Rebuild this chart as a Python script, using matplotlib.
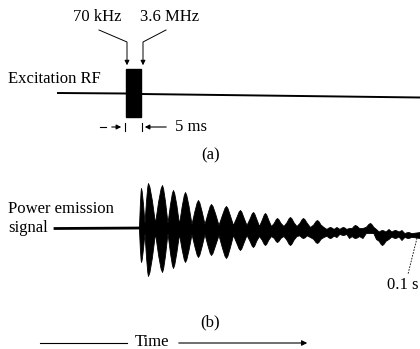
import numpy as np
import matplotlib
matplotlib.use("Agg")
import matplotlib.pyplot as plt

# burst peaks of the power emission signal (pixel coords)
burst_x = [141, 148, 162, 173, 185, 198, 211, 226, 240, 253, 265, 277, 290,
           303, 317, 330, 343, 355, 370, 382, 395, 408]
burst_top = [188, 183, 185, 190, 192, 200, 204, 206, 210, 212, 213, 218, 217,
             218, 220, 227, 227, 225, 223, 230, 230, 232]
burst_bot = [262, 276, 272, 268, 262, 257, 255, 258, 250, 247, 245, 242, 245,
             238, 243, 238, 235, 238, 233, 245, 238, 238]
core_y = [228, 228, 228, 228, 229, 229, 229, 230, 230, 230, 231, 231, 231,
          231, 232, 232, 232, 233, 233, 234, 234, 235]

labels_top = ["70 kHz", "3.6 MHz"]
pulse_ms = "5 ms"
end_label = "0.1 s"

plt.rcParams['font.family'] = ['Liberation Serif', 'DejaVu Serif']

fig = plt.figure(figsize=(4.2, 3.49), dpi=100)
ax = fig.add_axes([0, 0, 1, 1])
ax.set_xlim(0, 420)
ax.set_ylim(349, 0)
ax.axis('off')

fs = 12

# ---- (a) excitation RF ----
ax.text(8, 79, "Excitation RF", fontsize=fs, va='center', ha='left')
ax.plot([58, 126], [93, 93.5], color='black', lw=1.4)
ax.plot([141, 420], [94, 97.5], color='black', lw=1.4)
ax.add_patch(plt.Rectangle((125.5, 69), 15.5, 48, color='black'))

ax.text(97, 17, labels_top[0], fontsize=fs, ha='center', va='center')
ax.text(170, 17, labels_top[1], fontsize=fs, ha='center', va='center')
ax.plot([99, 127, 127], [30, 42, 62], color='black', lw=0.7)
ax.plot([166, 143, 143], [30, 42, 62], color='black', lw=0.7)
for xa in [127, 143]:
    ax.annotate("", xy=(xa, 68), xytext=(xa, 60),
                arrowprops=dict(arrowstyle='-|>', color='black', lw=0.7,
                                mutation_scale=7))

ax.plot([100, 106], [127, 127], color='black', lw=0.8)
ax.annotate("", xy=(124, 127), xytext=(109, 127),
            arrowprops=dict(arrowstyle='-|>', color='black', lw=0.8,
                            mutation_scale=7))
ax.annotate("", xy=(142, 127), xytext=(169, 127),
            arrowprops=dict(arrowstyle='-|>', color='black', lw=0.8,
                            mutation_scale=7))
ax.plot([124.5, 124.5], [123, 131], color='black', lw=0.8)
ax.plot([141.5, 141.5], [123, 131], color='black', lw=0.8)
ax.text(175, 127, pulse_ms, fontsize=fs, ha='left', va='center')
ax.text(211, 155, "(a)", fontsize=fs, ha='center', va='center')

# ---- (b) power emission signal ----
ax.text(8, 209, "Power emission", fontsize=fs, ha='left', va='center')
ax.text(8, 228, "signal", fontsize=fs, ha='left', va='center')
ax.plot([55, 141], [228.5, 228], color='black', lw=2.0)

# envelope: valleys between the burst peaks, rounded shoulders on each burst
ex, eh, el = [], [], []
n = len(burst_x)
for i in range(n):
    c = core_y[i]
    if i == 0:
        left = burst_x[i] - 2
        vh = 2
    else:
        left = (burst_x[i - 1] + burst_x[i]) / 2
        vh = 5
    right = burst_x[i + 1] if i + 1 < n else 420
    right = (burst_x[i] + right) / 2
    ex += [left]
    eh += [c - vh]
    el += [c + vh]
    # shoulders
    for f in [0.45, 0.8]:
        ex += [left + (burst_x[i] - left) * f]
        eh += [c - (c - burst_top[i]) * (0.62 if f < 0.5 else 0.92)]
        el += [c + (burst_bot[i] - c) * (0.62 if f < 0.5 else 0.92)]
    ex += [burst_x[i]]
    eh += [burst_top[i]]
    el += [burst_bot[i]]
    for f in [0.2, 0.55]:
        ex += [burst_x[i] + (right - burst_x[i]) * f]
        eh += [c - (c - burst_top[i]) * (0.92 if f < 0.5 else 0.62)]
        el += [c + (burst_bot[i] - c) * (0.92 if f < 0.5 else 0.62)]
ex += [420]
eh += [core_y[-1] - 3]
el += [core_y[-1] + 3]
ax.fill_between(ex, eh, el, color='black', lw=0.6, edgecolor='black')

ax.plot([417, 408], [238, 274], color='black', lw=0.6, ls=(0, (2, 1.5)))
ax.text(403, 285, end_label, fontsize=fs, ha='center', va='center')
ax.text(210, 322, "(b)", fontsize=fs, ha='center', va='center')

# ---- time arrow ----
ax.plot([40, 127], [343, 343], color='black', lw=0.8)
ax.text(152, 342, "Time", fontsize=fs, ha='center', va='center')
ax.annotate("", xy=(310, 343), xytext=(176, 343),
            arrowprops=dict(arrowstyle='-|>', color='black', lw=0.8,
                            mutation_scale=8))

fig.savefig("out.png", dpi=100)
